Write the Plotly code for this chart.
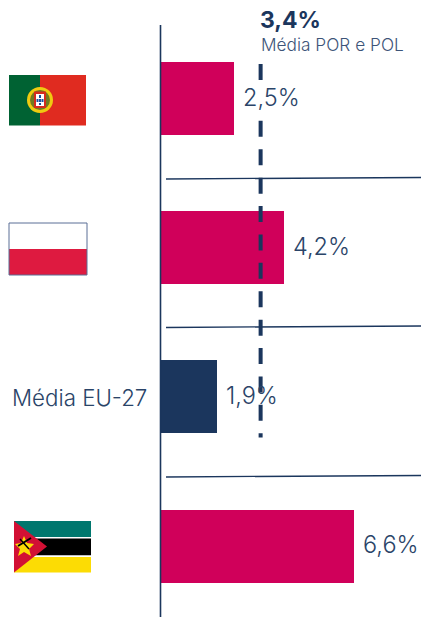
import plotly.graph_objects as go

categories = ["Portugal", "Polónia", "Média EU-27", "Moçambique"]
values = [2.5, 4.2, 1.9, 6.6]
labels = ["2,5%", "4,2%", "1,9%", "6,6%"]
bar_colors = ["#D0005A", "#D0005A", "#1B365D", "#D0005A"]
average = 3.4
average_label = "3,4%"
average_caption = "Média POR e POL"

W, H = 421, 617
NAVY = "#1B365D"
TEXT = "#2A4468"
FONT = "Inter"
X0, XS = 161, 29.3
Y0, YS = 98.5, 149.2
positions = list(range(len(categories)))

fig = go.Figure()
fig.add_trace(go.Bar(
    y=positions, x=values, orientation="h", width=0.489, name="",
    marker=dict(color=bar_colors, line=dict(width=0)),
    customdata=categories, hoverinfo="skip",
))
fig.add_trace(go.Scatter(
    x=[average, average], y=[-0.231, 2.272], mode="lines",
    line=dict(color=NAVY, width=4, dash="16px,12.4px"), hoverinfo="skip",
))


def px(x):
    return x / W


def py(y):
    return 1 - y / H


def rect(x0, y0, x1, y1, color, line=None):
    return dict(type="rect", xref="paper", yref="paper", x0=px(x0), x1=px(x1), y0=py(y1), y1=py(y0),
                fillcolor=color, line=dict(width=1 if line else 0, color=line or color), layer="above")


def seg(x0, y0, x1, y1, color=NAVY, w=1.3):
    return dict(type="line", xref="paper", yref="paper", x0=px(x0), x1=px(x1), y0=py(y0), y1=py(y1),
                line=dict(color=color, width=w), layer="above")


def circ(cx, cy, r, color):
    return dict(type="circle", xref="paper", yref="paper", x0=px(cx - r), x1=px(cx + r), y0=py(cy + r), y1=py(cy - r),
                fillcolor=color, line=dict(width=0), layer="above")


def poly(pts, color):
    path = "M " + " L ".join(f"{px(a)},{py(b)}" for a, b in pts) + " Z"
    return dict(type="path", xref="paper", yref="paper", path=path, fillcolor=color, line=dict(width=0), layer="above")


shapes = [
    seg(160.5, 25, 160.5, 617, w=1.6),
    seg(166, 179, 421, 177.5), seg(166, 327.5, 421, 326), seg(166, 477, 421, 475.5),
    # Portugal
    rect(9, 75, 40, 125.5, "#006233"), rect(40, 75, 86, 125.5, "#E02B20"),
    circ(40, 100, 13, "#EFCB10"), circ(40, 100, 10, "#6F7A20"),
    rect(34, 91.5, 46, 108, "#D52B1E"), rect(36, 94, 44, 106, "#FFFFFF"),
    rect(39, 95, 41, 98, "#1B4FA0"), rect(39, 99, 41, 102, "#1B4FA0"), rect(39, 103, 41, 105, "#1B4FA0"),
    rect(36.5, 99, 38.5, 102, "#1B4FA0"), rect(41.5, 99, 43.5, 102, "#1B4FA0"),
    # Poland
    rect(9, 223, 87, 249, "#FFFFFF"), rect(9, 249, 87, 275, "#DE1A40"),
    rect(9, 223, 87, 275, "rgba(0,0,0,0)", "#5A6E96"),
    # Mozambique
    rect(14, 521, 91, 537, "#00776E"), rect(14, 537, 91, 538.5, "#FFFFFF"),
    rect(14, 538.5, 91, 555.5, "#000000"), rect(14, 555.5, 91, 557, "#FFFFFF"),
    rect(14, 557, 91, 572.5, "#FCDC04"),
    poly([(14, 521), (47, 546.5), (14, 572.5)], "#D21034"),
    poly([(24, 536), (27, 543), (34, 544), (29, 549), (31, 556), (24, 552), (18, 556), (20, 549), (15, 544), (21, 543)], "#FCDC04"),
    seg(18, 546, 31, 538, "#000000", 2), seg(20, 539, 29, 549, "#000000", 1.5),
]

annotations = [
    dict(text="Média EU-27", x=79.5 / W, y=py(397.5), xref="paper", yref="paper", showarrow=False,
         font=dict(family=FONT, size=22.3, color=TEXT, weight=300), xanchor="center", yanchor="middle"),
    dict(text=f"<b>{average_label}</b>", x=260 / W, y=py(20), xref="paper", yref="paper", showarrow=False,
         font=dict(family=FONT, size=23, color=NAVY), xanchor="left", yanchor="middle", xshift=-2),
    dict(text=average_caption, x=261 / W, y=py(44), xref="paper", yref="paper", showarrow=False,
         font=dict(family=FONT, size=17.3, color="#3D5478", weight=300), xanchor="left", yanchor="middle", xshift=-2),
]
for pos, val, lab in zip(positions, values, labels):
    annotations.append(dict(text=lab, x=val, y=pos, xref="x", yref="y", showarrow=False, xanchor="left",
                            yanchor="middle", xshift=8, yshift=1.5, borderpad=0,
                            bgcolor="white" if pos == 0 else "rgba(0,0,0,0)",
                            font=dict(family=FONT, size=23.5, color=TEXT, weight=300)))

fig.update_layout(
    width=W, height=H, margin=dict(l=0, r=0, t=0, b=0), autosize=False,
    paper_bgcolor="white", plot_bgcolor="white", showlegend=False, bargap=0,
    shapes=shapes, annotations=annotations,
    xaxis=dict(range=[-X0 / XS, (W - X0) / XS], visible=False, fixedrange=True),
    yaxis=dict(range=[(H - Y0) / YS, -Y0 / YS], visible=False, fixedrange=True,
               tickvals=positions, ticktext=categories),
)
fig.write_html("out.html", config={"displayModeBar": False},
               post_script="document.body.style.margin='0';document.documentElement.style.overflow='hidden';")
